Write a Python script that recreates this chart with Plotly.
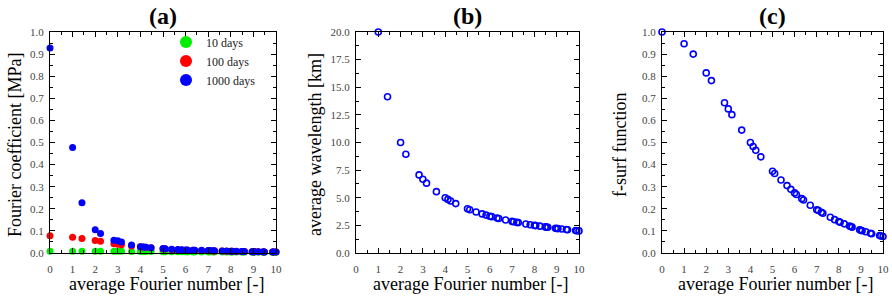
import plotly.graph_objects as go

# ---------------- data ----------------
fourier_number = [0, 1, 1.414, 2, 2.236, 2.828, 3, 3.162, 3.606, 4, 4.123, 4.243, 4.472,
                  5, 5.099, 5.385, 5.657, 5.831, 6, 6.083, 6.325, 6.403, 6.708, 7, 7.071,
                  7.211, 7.280, 7.616, 7.810, 8, 8.062, 8.246, 8.485, 8.544, 8.602, 8.944,
                  9, 9.055, 9.220, 9.434, 9.487, 9.849, 9.899, 10, 10.050]

coef_10_days = [0.008, 0.008, 0.008, 0.008, 0.008, 0.008, 0.008, 0.008, 0.007, 0.007, 0.007,
                0.007, 0.007, 0.006, 0.006, 0.006, 0.006, 0.006, 0.006, 0.005, 0.005, 0.005,
                0.005, 0.005, 0.005, 0.005, 0.005, 0.005, 0.004, 0.004, 0.004, 0.004, 0.004,
                0.004, 0.004, 0.004, 0.004, 0.004, 0.004, 0.003, 0.003, 0.003, 0.003, 0.003, 0.003]

coef_100_days = [0.078, 0.071, 0.066, 0.056, 0.053, 0.042, 0.040, 0.037, 0.032, 0.028, 0.027,
                 0.026, 0.024, 0.019, 0.018, 0.016, 0.015, 0.014, 0.013, 0.013, 0.012, 0.012,
                 0.011, 0.010, 0.010, 0.009, 0.009, 0.009, 0.008, 0.008, 0.008, 0.007, 0.007,
                 0.007, 0.007, 0.006, 0.006, 0.006, 0.006, 0.005, 0.005, 0.005, 0.005, 0.005, 0.005]

coef_1000_days = [0.928, 0.477, 0.227, 0.105, 0.088, 0.058, 0.055, 0.050, 0.036, 0.028, 0.027,
                  0.026, 0.024, 0.020, 0.019, 0.017, 0.016, 0.015, 0.014, 0.014, 0.013, 0.013,
                  0.012, 0.011, 0.011, 0.010, 0.010, 0.009, 0.009, 0.008, 0.008, 0.008, 0.007,
                  0.007, 0.007, 0.006, 0.006, 0.006, 0.006, 0.006, 0.005, 0.005, 0.005, 0.005, 0.005]

wavelength_x = fourier_number[1:]
wavelength_km = [20.0, 14.14, 10.0, 8.94, 7.07, 6.67, 6.32, 5.55, 5.0, 4.85, 4.71, 4.47,
                 4.0, 3.92, 3.71, 3.54, 3.43, 3.33, 3.29, 3.16, 3.12, 2.98, 2.86, 2.83,
                 2.77, 2.75, 2.63, 2.56, 2.5, 2.48, 2.43, 2.36, 2.34, 2.33, 2.24, 2.22,
                 2.21, 2.17, 2.12, 2.11, 2.03, 2.02, 2.0, 1.99]

f_surf = [1.0, 0.947, 0.90, 0.815, 0.78, 0.68, 0.652, 0.626, 0.556, 0.50, 0.482, 0.465,
          0.435, 0.37, 0.36, 0.33, 0.305, 0.288, 0.272, 0.265, 0.246, 0.24, 0.216, 0.196,
          0.193, 0.184, 0.18, 0.162, 0.151, 0.142, 0.139, 0.132, 0.122, 0.12, 0.117, 0.105,
          0.103, 0.101, 0.096, 0.089, 0.087, 0.079, 0.077, 0.075, 0.071]

series_names = ["10 days", "100 days", "1000 days"]
series_colors = ["#00ee00", "#ff0000", "#0000ff"]
panel_titles = ["(a)", "(b)", "(c)"]
x_title = "average Fourier number [-]"
y_titles = ["Fourier coefficient [MPa]", "average wavelength [km]", "f-surf function"]

# ---------------- figure ----------------
W, H = 892, 303
FONT = "Liberation Serif, Times New Roman, serif"
fig = go.Figure()

for name, ys, col in zip(series_names, [coef_10_days, coef_100_days, coef_1000_days], series_colors):
    fig.add_trace(go.Scatter(x=fourier_number, y=ys, mode="markers", name=name,
                             marker=dict(color=col, size=7), cliponaxis=False,
                             xaxis="x", yaxis="y"))

fig.add_trace(go.Scatter(x=wavelength_x, y=wavelength_km, mode="markers", showlegend=False,
                         marker=dict(symbol="circle-open", color="#0000ff", size=6,
                                     line=dict(width=1.6, color="#0000ff")),
                         cliponaxis=False, xaxis="x2", yaxis="y2"))
fig.add_trace(go.Scatter(x=fourier_number, y=f_surf, mode="markers", showlegend=False,
                         marker=dict(symbol="circle-open", color="#0000ff", size=6,
                                     line=dict(width=1.6, color="#0000ff")),
                         cliponaxis=False, xaxis="x3", yaxis="y3"))

x_px = [(50, 276), (356, 579), (662, 883)]
y_top, y_bot = 32, 253
ydom = [1 - y_bot / H, 1 - y_top / H]

def xax(dom):
    return dict(domain=[dom[0] / W, dom[1] / W], range=[0, 10], dtick=1, tick0=0,
                ticks="inside", ticklen=5, tickcolor="black", tickwidth=1,
                minor=dict(ticks="inside", ticklen=3, dtick=0.5, tickcolor="black"),
                showline=True, linecolor="black", linewidth=1, mirror="ticks",
                showgrid=False, zeroline=False, ticklabelstandoff=6, automargin=False,
                tickfont=dict(family=FONT, size=11, color="#444444"))

def yax(anchor, rng, dtick, fmt):
    return dict(domain=ydom, range=rng, dtick=dtick, tick0=0, anchor=anchor,
                ticks="inside", ticklen=5, tickcolor="black", tickwidth=1,
                minor=dict(ticks="inside", ticklen=3, dtick=dtick / 2, tickcolor="black"),
                showline=True, linecolor="black", linewidth=1, mirror="ticks",
                showgrid=False, zeroline=False, tickformat=fmt, ticklabelstandoff=3,
                automargin=False,
                tickfont=dict(family=FONT, size=11, color="#444444"))

fig.update_layout(
    width=W, height=H, margin=dict(l=0, r=0, t=0, b=0, autoexpand=False),
    paper_bgcolor="white", plot_bgcolor="white",
    xaxis=dict(xax(x_px[0]), anchor="y"),
    xaxis2=dict(xax(x_px[1]), anchor="y2"),
    xaxis3=dict(xax(x_px[2]), anchor="y3"),
    yaxis=yax("x", [0, 1.0], 0.1, ".1f"),
    yaxis2=yax("x2", [0, 20], 2.5, ".1f"),
    yaxis3=yax("x3", [0, 1.0], 0.1, ".1f"),
    legend=dict(x=166 / W, y=1 - 61 / H, xanchor="left", yanchor="middle",
                bgcolor="rgba(0,0,0,0)", itemsizing="constant",
                font=dict(family=FONT, size=12, color="#222222"),
                tracegroupgap=0),
    showlegend=True,
)

ann = []
for (x0, x1), t in zip(x_px, panel_titles):
    ann.append(dict(text="<b>%s</b>" % t, x=(x0 + x1) / 2 / W, y=1 - 16 / H, xref="paper", yref="paper",
                    showarrow=False, xanchor="center", yanchor="middle",
                    font=dict(family=FONT, size=24, color="black")))
    ann.append(dict(text=x_title, x=(x0 + x1) / 2 / W + 3 / W, y=1 - 284 / H, xref="paper", yref="paper",
                    showarrow=False, xanchor="center", yanchor="middle",
                    font=dict(family=FONT, size=18, color="black")))
y_title_x = [15, 315, 620]
for xt, t in zip(y_title_x, y_titles):
    ann.append(dict(text=t, x=xt / W, y=1 - 145 / H, xref="paper", yref="paper", textangle=-90,
                    showarrow=False, xanchor="center", yanchor="middle",
                    font=dict(family=FONT, size=18, color="black")))
fig.update_layout(annotations=ann)

fig.write_html("out.html", config={"displayModeBar": False},
               post_script="document.body.style.margin='0';document.body.style.overflow='hidden';")
